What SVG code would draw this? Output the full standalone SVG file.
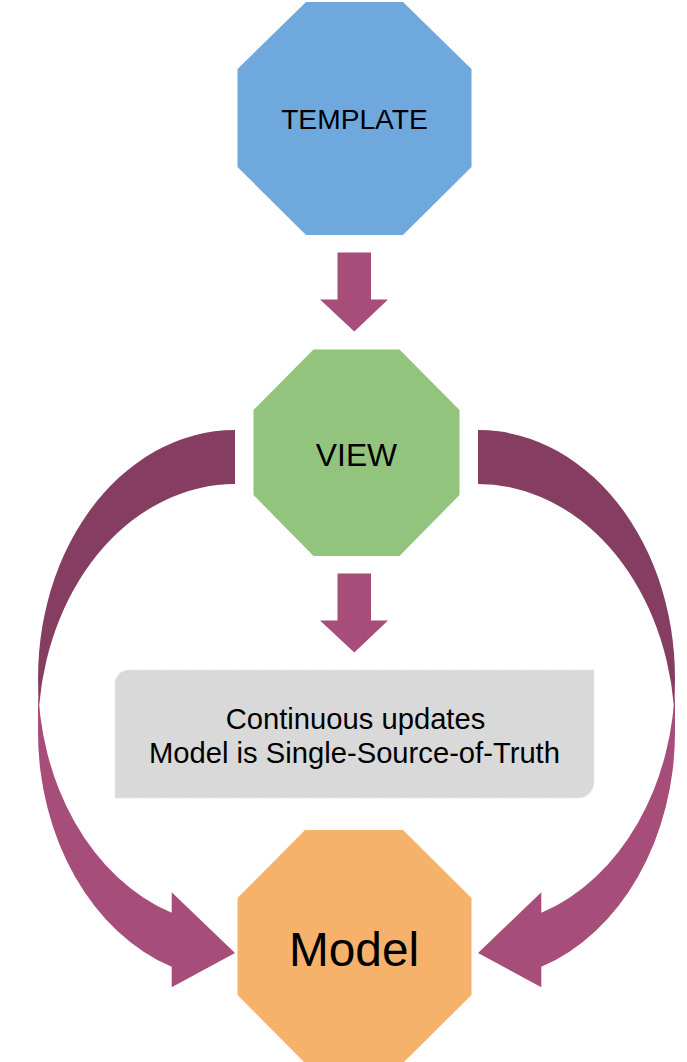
<svg xmlns="http://www.w3.org/2000/svg" width="687" height="1062" viewBox="0 0 687 1062">
<style>
.lbl{font-family:"Liberation Sans",Arial,sans-serif;fill:#000;text-anchor:middle}
.arr{fill:#A64D79}
.arrd{fill:#853E61}
</style>
<rect width="687" height="1062" fill="#fff"/>
<g id="connectors">
  <path id="arrow-template-view" class="arr" d="M337.5 252.5 H371 V299.5 H388 L354.3 331.5 L320 299.5 H337.5 Z"/>
  <path id="arrow-view-box" class="arr" d="M337.5 573.5 H371 V620.5 H388 L354.3 652.5 L320 620.5 H337.5 Z"/>
  <g id="curve-left">
    <path class="arr" d="M38 678 A197 248 0 0 0 171.7 912.8 L171.7 892.3 L235 953 L171.7 987.3 L171.7 966.8 A197 248 0 0 1 38 732 Z"/>
    <path class="arrd" d="M235 430 A197 248 0 0 0 39.2 705 A197 248 0 0 1 235 484 Z"/>
  </g>
  <g id="curve-right" transform="translate(713,0) scale(-1,1)">
    <path class="arr" d="M38 678 A197 248 0 0 0 171.7 912.8 L171.7 892.3 L235 953 L171.7 987.3 L171.7 966.8 A197 248 0 0 1 38 732 Z"/>
    <path class="arrd" d="M235 430 A197 248 0 0 0 39.2 705 A197 248 0 0 1 235 484 Z"/>
  </g>
</g>
<g id="template">
  <polygon fill="#6FA8DC" points="306,2 403,2 471.5,69 471.5,167 403,235 306,235 237.5,167 237.5,69"/>
  <text class="lbl" x="354.5" y="128.5" font-size="28.2">TEMPLATE</text>
</g>
<g id="view">
  <polygon fill="#93C47D" points="313.5,349.5 399.5,349.5 459.5,410 459.5,495 399.5,556 313.5,556 253.5,495 253.5,410"/>
  <text class="lbl" x="356.5" y="466" font-size="31.8">VIEW</text>
</g>
<g id="note">
  <path fill="#D9D9D9" stroke="#E8E8E8" stroke-width="1" stroke-dasharray="4 2" d="M129 670 H594 V782 A16 16 0 0 1 578 798 H115 V684 A14 14 0 0 1 129 670 Z"/>
  <text class="lbl" x="355.5" y="728.5" font-size="29.2">Continuous updates</text>
  <text class="lbl" x="354.5" y="762.5" font-size="29.2">Model is Single-Source-of-Truth</text>
</g>
<g id="model">
  <polygon fill="#F6B26B" points="305,830 403,830 471.5,898 471.5,995 403,1063 305,1063 237.5,995 237.5,898"/>
  <text class="lbl" x="354" y="965.5" font-size="47.8">Model</text>
</g>
</svg>
